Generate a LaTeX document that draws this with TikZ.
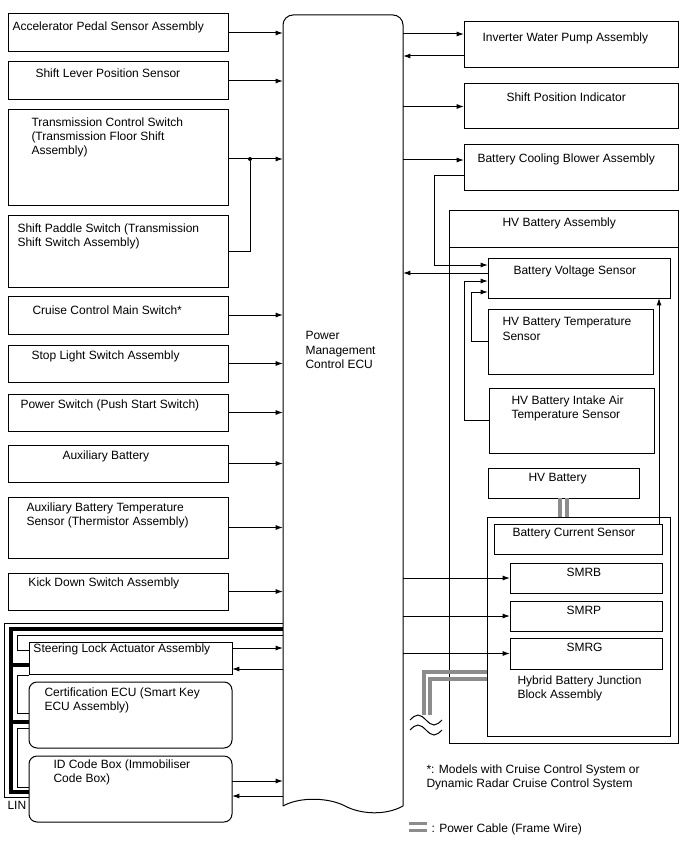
\documentclass[tikz,border=0pt]{standalone}
\usepackage{fontspec}
\setmainfont{Liberation Sans}
\usetikzlibrary{arrows.meta}

\tikzset{every picture/.style={line width=0.75pt}}
\tikzset{
  blk/.style 2 args={draw, rectangle, anchor=north west, inner sep=0pt, outer sep=0pt,
    minimum width=#1*0.75pt, minimum height=#2*0.75pt},
  rblk/.style 2 args={blk={#1}{#2}, rounded corners=6pt},
  txt/.style={anchor=north west, inner sep=0.75pt, align=left, font=\fontsize{9}{10.8}\selectfont},
  sig/.style={-{Latex[length=5.6pt,width=3.8pt]}},
  pcable/.style={draw={rgb, 255:red, 140; green, 140; blue, 140}, line width=2.6pt},
  linbus/.style={line width=3pt},
  jdot/.style={circle, fill, inner sep=0pt, minimum size=3pt},
}

\begin{document}
\begin{tikzpicture}[x=0.75pt,y=0.75pt,yscale=-1,xscale=1]
\useasboundingbox (0,0) rectangle (688,852);

%Shape: Power Management Control ECU
\node[blk={120}{791}, draw=none] (ecu) at (283,15) {};
\draw[rounded corners=7.5pt] (ecu.south west) -- (ecu.north west) -- (ecu.north east) -- (ecu.south east);
\draw (ecu.south west) .. controls +(18,-10) and +(-15,-8) .. ++(62,0) .. controls +(15,8) and +(-18,10) .. (ecu.south east);

%Shape: Rectangles left
\node[blk={220}{38}] (accel) at (8,14) {};
\node[blk={220}{38}] (slever) at (8,62) {};
\node[blk={220}{96}] (tcs) at (8,110) {};
\node[blk={220}{71}] (paddle) at (8,216) {};
\node[blk={220}{38}] (cruise) at (8,296) {};
\node[blk={220}{37}] (stoplt) at (8,345) {};
\node[blk={220}{37}] (pwrsw) at (8,394) {};
\node[blk={220}{37}] (auxbat) at (8,445) {};
\node[blk={220}{61}] (auxtmp) at (8,497) {};
\node[blk={220}{37}] (kickdn) at (8,573) {};
\node[blk={203}{32}] (steer) at (29,642) {};
\node[rblk={203}{66}] (cert) at (29,682) {};
\node[rblk={203}{66}] (idbox) at (29,756) {};

%Shape: Rectangles right
\node[blk={214}{46}] (inv) at (464,22) {};
\node[blk={214}{45}] (spi) at (464,84) {};
\node[blk={214}{46}] (blower) at (464,145) {};
\node[blk={229}{532}] (hvassy) at (449,211) {};
\draw ([yshift=27pt]hvassy.north west) -- ([yshift=27pt]hvassy.north east);
\node[blk={182}{40}] (volt) at (488,258) {};
\node[blk={165}{65}] (htemp) at (488,309) {};
\node[blk={165}{65}] (intake) at (489,388) {};
\node[blk={151}{30}] (hvb) at (488,468) {};
\node[blk={183}{219}] (jb) at (487,517) {};
\node[blk={168}{30}] (cur) at (494,524) {};
\node[blk={152}{30}] (smrb) at (510,563) {};
\node[blk={152}{30}] (smrp) at (510,601) {};
\node[blk={152}{31}] (smrg) at (510,638) {};

%Straight Lines: inputs to ECU
\draw[sig] (accel.east) -- (accel.east -| ecu.west);
\draw[sig] (slever.east) -- (slever.east -| ecu.west);
\node[jdot] (jn) at (250,159) {};
\draw[sig] (tcs.east |- jn) -- (jn -| ecu.west);
\draw (paddle.east) -| (jn);
\draw[sig] (cruise.east) -- (cruise.east -| ecu.west);
\draw[sig] (stoplt.east) -- (stoplt.east -| ecu.west);
\draw[sig] (pwrsw.east) -- (pwrsw.east -| ecu.west);
\draw[sig] (auxbat.east) -- (auxbat.east -| ecu.west);
\draw[sig] (auxtmp.east) -- (auxtmp.east -| ecu.west);
\draw[sig] (kickdn.east) -- (kickdn.east -| ecu.west);

%Straight Lines: steering lock and ID code box
\coordinate (st1) at ([yshift=-7.5pt]steer.east);
\coordinate (st2) at ([yshift=8.25pt]steer.east);
\draw[sig] (st1) -- (st1 -| ecu.west);
\draw[sig] (st2 -| ecu.west) -- (st2);
\coordinate (id1) at ([yshift=-6pt]idbox.east);
\coordinate (id2) at ([yshift=5.25pt]idbox.east);
\draw[sig] (id1) -- (id1 -| ecu.west);
\draw[sig] (id2 -| ecu.west) -- (id2);

%LIN lines
\draw (ecu.west |- 0,623) -| (4,797) -- (29,797);
\draw[linbus] (ecu.west |- 0,629) -| (11,792) -- (29,792);
\draw[linbus] (11,665) -- (29,665);
\draw[linbus] (11,722) -- (29,722);
\draw (ecu.west |- 0,635) -| (17,650) -- (29,650);
\draw (29,675) -| (17,713) -- (29,713);
\draw (29,728) -| (17,787) -- (29,787);

%Straight Lines: outputs from ECU
\coordinate (inv1) at ([yshift=-8.25pt]inv.west);
\coordinate (inv2) at ([yshift=8.25pt]inv.west);
\draw[sig] (inv1 -| ecu.east) -- (inv1);
\draw[sig] (inv2) -- (inv2 -| ecu.east);
\draw[sig] (spi.west -| ecu.east) -- (spi.west);
\coordinate (blw1) at ([yshift=-6pt]blower.west);
\coordinate (blw2) at ([yshift=6pt]blower.west);
\draw[sig] (blw1 -| ecu.east) -- (blw1);

%Straight Lines: battery voltage sensor
\coordinate (vs1) at ([yshift=-9.75pt]volt.west);
\coordinate (vs2) at ([yshift=-3.75pt]volt.west);
\coordinate (vs3) at ([yshift=2.25pt]volt.west);
\coordinate (vs4) at ([yshift=10.5pt]volt.west);
\draw[sig] (blw2) -- ++(-30,0) |- (vs1);
\draw[sig] (vs2) -- (vs2 -| ecu.east);
\draw[sig] (intake.west) -- ++(-25,0) |- (vs3);
\draw[sig] (htemp.west) -- ++(-17,0) |- (vs4);
\coordinate (cs) at ([xshift=-2.25pt]cur.north east);
\draw[sig] (cs) -- (cs |- volt.south);

%Straight Lines: SMR
\draw[sig] (smrb.west -| ecu.east) -- (smrb.west);
\draw[sig] (smrp.west -| ecu.east) -- (smrp.west);
\draw[sig] (smrg.west -| ecu.east) -- (smrg.west);

%Power cables
\coordinate (pc1) at ([xshift=-2.5pt]hvb.south);
\coordinate (pc2) at ([xshift=2.5pt]hvb.south);
\draw[pcable] (pc1) -- (pc1 |- jb.north);
\draw[pcable] (pc2) -- (pc2 |- jb.north);
\coordinate (pc3) at (jb.west |- 0,672);
\coordinate (pc4) at (jb.west |- 0,679);
\draw[pcable] (pc3) -| (424,715);
\draw[pcable] (pc4) -| (430,715);
\draw (410,720) sin (418,715) cos (426,720) sin (434,725) cos (442,720);
\draw (410,730) sin (418,725) cos (426,730) sin (434,735) cos (442,730);

%Legend
\draw[pcable] (409,823.5) -- (427,823.5);
\draw[pcable] (409,830.5) -- (427,830.5);

% Text Node
\node[txt] (accelt) at (11,20) {Accelerator Pedal Sensor Assembly};
\node[txt] (slevert) at (34,67) {Shift Lever Position Sensor};
\node[txt] (tcst) at (30,116) {Transmission Control Switch\\(Transmission Floor Shift\\Assembly)};
\node[txt] (paddlet) at (16,222) {Shift Paddle Switch (Transmission\\Shift Switch Assembly)};
\node[txt] (cruiset) at (31,304) {Cruise Control Main Switch*};
\node[txt] (stopltt) at (30,349) {Stop Light Switch Assembly};
\node[txt] (pwrswt) at (19,398) {Power Switch (Push Start Switch)};
\node[txt] (auxbatt) at (61,449) {Auxiliary Battery};
\node[txt] (auxtmpt) at (25,501) {Auxiliary Battery Temperature\\Sensor (Thermistor Assembly)};
\node[txt] (kickdnt) at (27,576) {Kick Down Switch Assembly};
\node[txt] (steert) at (32,642) {Steering Lock Actuator Assembly};
\node[txt] (certt) at (43,686) {Certification ECU (Smart Key\\ECU Assembly)};
\node[txt] (idboxt) at (52,758) {ID Code Box (Immobiliser\\Code Box)};
\node[txt] (lint) at (6,800) {LIN};
\node[txt] (ecut) at (304,330) {Power\\Management\\Control ECU};
\node[txt] (invt) at (481,31) {Inverter Water Pump Assembly};
\node[txt] (spit) at (505,91) {Shift Position Indicator};
\node[txt] (blowert) at (476,152) {Battery Cooling Blower Assembly};
\node[txt] (hvassyt) at (501,216) {HV Battery Assembly};
\node[txt] (voltt) at (512,264) {Battery Voltage Sensor};
\node[txt] (htempt) at (501,316) {HV Battery Temperature\\Sensor};
\node[txt] (intaket) at (510,394) {HV Battery Intake Air\\Temperature Sensor};
\node[txt] (hvbt) at (527,472) {HV Battery};
\node[txt] (curt) at (511,527) {Battery Current Sensor};
\node[txt] (smrbt) at (565,567) {SMRB};
\node[txt] (smrpt) at (565,605) {SMRP};
\node[txt] (smrgt) at (565,642) {SMRG};
\node[txt] (jbt) at (516,674) {Hybrid Battery Junction\\Block Assembly};
\node[txt] (foott) at (425,763) {*: Models with Cruise Control System or\\Dynamic Radar Cruise Control System};
\node[txt] (legt) at (430,822) {: Power Cable (Frame Wire)};

\end{tikzpicture}
\end{document}
